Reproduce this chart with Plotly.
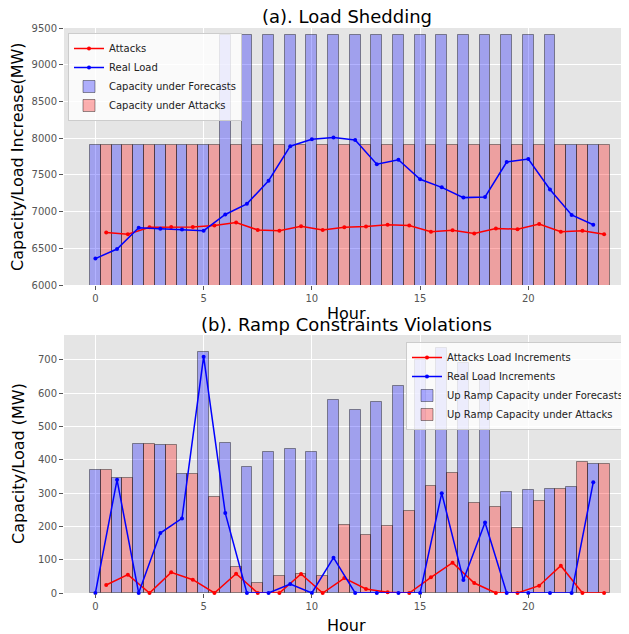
import plotly.graph_objects as go

# ---------------- data ----------------
hours = list(range(24))

# (a) Load Shedding
cap_forecast = [7900, 7900, 7900, 7900, 7900, 7900, 9400, 9400, 9400, 9400, 9400, 9400,
                9400, 9400, 9400, 9400, 9400, 9400, 9400, 9400, 9400, 9400, 7900, 7900]
cap_attack = [7900] * 24
real_load = [6360, 6490, 6780, 6765, 6755, 6740, 6960, 7105, 7420, 7890, 7985, 8010,
             7975, 7645, 7705, 7440, 7330, 7190, 7200, 7675, 7715, 7300, 6955, 6820]
attack_load = [6715, 6690, 6785, 6790, 6790, 6810, 6850, 6750, 6740, 6800, 6750, 6785,
               6795, 6820, 6810, 6725, 6745, 6700, 6770, 6760, 6830, 6725, 6740, 6690]

# (b) Ramp Constraints Violations
up_forecast = [370, 345, 447, 444, 357, 725, 451, 379, 425, 434, 425, 579,
               549, 575, 621, 700, 735, 690, 645, 302, 308, 312, 319, 389]
up_attack = [370, 345, 447, 444, 357, 288, 77, 30, 50, 58, 50, 204,
             174, 200, 246, 322, 359, 269, 258, 195, 277, 312, 394, 389]
real_inc = [0, 340, 0, 180, 224, 710, 240, 0, 0, 27, 0, 106,
            0, 0, 0, 0, 300, 39, 212, 0, 0, 0, 0, 333]
attack_inc = [24, 55, 0, 62, 40, 0, 58, 0, 0, 57, 0, 45,
              12, 2, 0, 47, 91, 30, 0, 0, 22, 82, 0, 0]

top_ticks = [6000, 6500, 7000, 7500, 8000, 8500, 9000, 9500]
bot_ticks = [0, 100, 200, 300, 400, 500, 600, 700]
x_ticks = [0, 5, 10, 15, 20]

# ---------------- style ----------------
FONT = "DejaVu Sans"
BLUE_BAR = "rgba(0,0,255,0.3)"
RED_BAR = "rgba(255,0,0,0.3)"
EDGE = "rgba(0,0,0,0.4)"
shift = [h + 0.5 for h in hours]

OFF = 8  # page body margin
W, H = 629 - OFF, 634 - OFF
ML, MR, MT, MB = 64 - OFF, 0, 28 - OFF, 41
ph = H - MT - MB


def py(pix):
    return (H - MB - (pix - OFF)) / ph


def px(pix):
    return ((pix - OFF) - ML) / (W - ML - MR)


fig = go.Figure()

# top subplot
fig.add_trace(go.Scatter(x=shift, y=attack_load, mode="lines+markers", name="Attacks",
                         line=dict(color="red", width=1.5), marker=dict(size=4, color="red"),
                         xaxis="x", yaxis="y", legend="legend"))
fig.add_trace(go.Scatter(x=hours, y=real_load, mode="lines+markers", name="Real Load",
                         line=dict(color="blue", width=1.5), marker=dict(size=4, color="blue"),
                         xaxis="x", yaxis="y", legend="legend"))
fig.add_trace(go.Bar(x=hours, y=cap_forecast, width=0.5, name="Capacity under Forecasts",
                     marker=dict(color=BLUE_BAR, line=dict(color=EDGE, width=1)),
                     base=0, xaxis="x", yaxis="y", legend="legend"))
fig.add_trace(go.Bar(x=shift, y=cap_attack, width=0.5, name="Capacity under Attacks",
                     marker=dict(color=RED_BAR, line=dict(color=EDGE, width=1)),
                     base=0, xaxis="x", yaxis="y", legend="legend"))

# bottom subplot
fig.add_trace(go.Scatter(x=shift, y=attack_inc, mode="lines+markers", name="Attacks Load Increments",
                         line=dict(color="red", width=1.5), marker=dict(size=4, color="red"),
                         xaxis="x2", yaxis="y2", legend="legend2", cliponaxis=False))
fig.add_trace(go.Scatter(x=hours, y=real_inc, mode="lines+markers", name="Real Load Increments",
                         line=dict(color="blue", width=1.5), marker=dict(size=4, color="blue"),
                         xaxis="x2", yaxis="y2", legend="legend2", cliponaxis=False))
fig.add_trace(go.Bar(x=hours, y=up_forecast, width=0.5, name="Up Ramp Capacity under Forecasts",
                     marker=dict(color=BLUE_BAR, line=dict(color=EDGE, width=1)),
                     xaxis="x2", yaxis="y2", legend="legend2"))
fig.add_trace(go.Bar(x=shift, y=up_attack, width=0.5, name="Up Ramp Capacity under Attacks",
                     marker=dict(color=RED_BAR, line=dict(color=EDGE, width=1)),
                     xaxis="x2", yaxis="y2", legend="legend2"))

axis_common = dict(showgrid=True, gridcolor="white", gridwidth=1, zeroline=False,
                   ticks="outside", ticklen=4, tickcolor="#555555", showline=False,
                   tickfont=dict(family=FONT, size=10, color="#555555"))

legend_common = dict(bgcolor="rgba(255,255,255,0.8)", bordercolor="#cccccc", borderwidth=1,
                     font=dict(family=FONT, size=10, color="#222222"),
                     traceorder="normal", itemwidth=30, tracegroupgap=0)

fig.update_layout(
    width=W, height=H,
    margin=dict(l=ML, r=MR, t=MT, b=MB),
    paper_bgcolor="white", plot_bgcolor="#E5E5E5",
    barmode="overlay", bargap=0,
    font=dict(family=FONT, color="black"),
    showlegend=True,
    xaxis=dict(domain=[0, 1], range=[-1.45, 24.65], tickvals=x_ticks, anchor="y", **axis_common),
    yaxis=dict(domain=[py(285), 1], range=[6000, 9500], tickvals=top_ticks, anchor="x", **axis_common),
    xaxis2=dict(domain=[0, 1], range=[-1.45, 24.65], tickvals=x_ticks, anchor="y2", **axis_common),
    yaxis2=dict(domain=[0, py(335)], range=[0, 775], tickvals=bot_ticks, anchor="x2", **axis_common),
    legend=dict(x=px(68), y=py(33), xanchor="left", yanchor="top", **legend_common),
    legend2=dict(x=1, y=py(342), xanchor="right", yanchor="top", **legend_common),
)

annotations = [
    dict(text="(a). Load Shedding", x=0.5, y=py(16), xref="paper", yref="paper",
         showarrow=False, font=dict(family=FONT, size=18, color="black"), yanchor="middle"),
    dict(text="(b). Ramp Constraints Violations", x=0.5, y=py(324), xref="paper", yref="paper",
         showarrow=False, font=dict(family=FONT, size=18, color="black"), yanchor="middle"),
    dict(text="Hour", x=0.5, y=py(313), xref="paper", yref="paper",
         showarrow=False, font=dict(family=FONT, size=16, color="black"), yanchor="middle"),
    dict(text="Hour", x=0.5, y=py(625), xref="paper", yref="paper",
         showarrow=False, font=dict(family=FONT, size=16, color="black"), yanchor="middle"),
    dict(text="Capacity/Load Increase(MW)", x=px(18), y=py(157), xref="paper", yref="paper",
         showarrow=False, textangle=-90, font=dict(family=FONT, size=16, color="black"),
         xanchor="center", yanchor="middle"),
    dict(text="Capacity/Load (MW)", x=px(18), y=py(464), xref="paper", yref="paper",
         showarrow=False, textangle=-90, font=dict(family=FONT, size=16, color="black"),
         xanchor="center", yanchor="middle"),
]
fig.update_layout(annotations=annotations)

fig.write_html("out.html")
